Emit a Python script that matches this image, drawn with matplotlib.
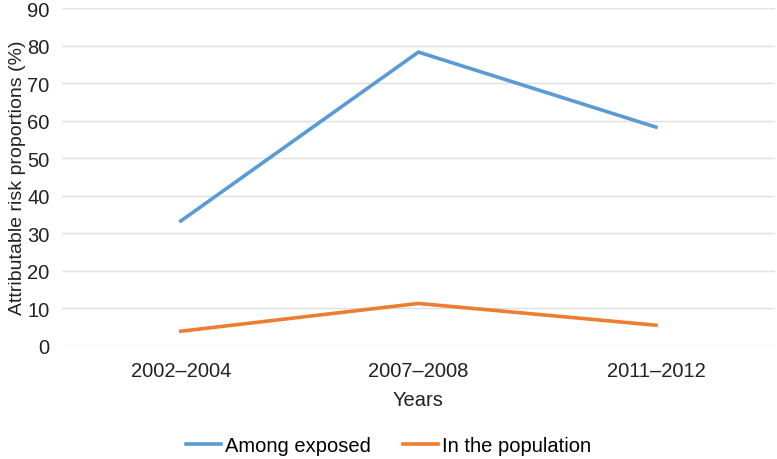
import numpy as np
import matplotlib.pyplot as plt

plt.rcParams['font.family'] = ['Liberation Sans', 'DejaVu Sans']

years = ["2002\u20132004", "2007\u20132008", "2011\u20132012"]
among_exposed = [33.3, 78.3, 58.3]
in_population = [3.9, 11.3, 5.5]

fig = plt.figure(figsize=(7.77, 4.6), dpi=100)
ax = fig.add_axes([0.080, 0.246, 0.917, 0.734])

x = np.arange(len(years))
ax.plot(x, among_exposed, color="#5B9BD5", linewidth=2.6, label="Among exposed")
ax.plot(x, in_population, color="#ED7D31", linewidth=2.6, label="In the population")

ax.set_xlim(-0.5, len(years) - 0.5)
ax.set_ylim(0, 90)
ax.set_yticks(range(0, 91, 10))
ax.set_xticks(x)
ax.set_xticklabels(years)
ax.tick_params(axis="both", length=0, labelsize=14.5, colors="#222222")
ax.tick_params(axis="x", pad=11)
ax.tick_params(axis="y", pad=9)
ax.grid(axis="y", color="#e0e0e0", linewidth=1)
ax.set_axisbelow(True)
for s in ax.spines.values():
    s.set_visible(False)

ax.set_xlabel("Years", fontsize=14.5, color="#222222", labelpad=7)
ax.set_ylabel("Attributable risk proportions (%)", fontsize=14, color="#222222", labelpad=1)

fig.legend(loc="center", bbox_to_anchor=(0.5, 0.03), ncol=2, frameon=False,
           fontsize=14.5, handlelength=1.75, handletextpad=0.2, columnspacing=1.6)

fig.savefig("out.png", dpi=100)
